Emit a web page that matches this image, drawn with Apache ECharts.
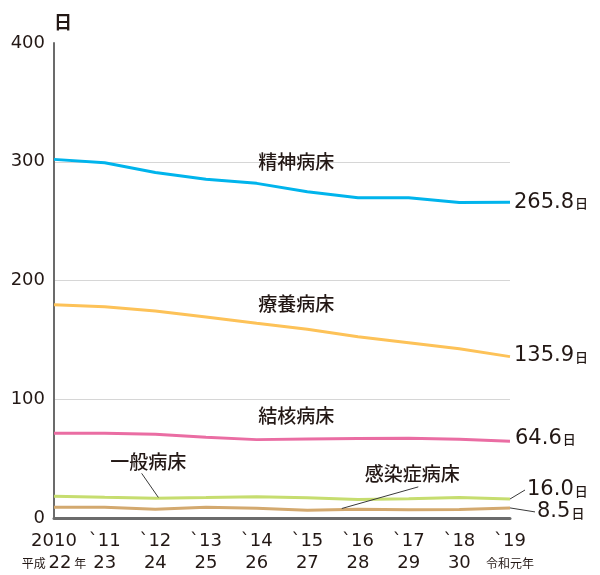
<!DOCTYPE html>
<html>
<head>
<meta charset="utf-8">
<script src="https://cdn.jsdelivr.net/npm/echarts@6/dist/echarts.min.js"></script>
<style>
  html, body { margin: 0; padding: 0; background: #fff; }
  #chart { width: 600px; height: 575px; }
</style>
</head>
<body>
<div id="chart"></div>
<script>
// x categories (two rows: western year / Japanese era year)
const yearLabels = ['2010', '`11', '`12', '`13', '`14', '`15', '`16', '`17', '`18', '`19'];
const eraLabels = ['22', '23', '24', '25', '26', '27', '28', '29', '30', '元'];
const yTicks = [0, 100, 200, 300, 400];

// average length of stay (days)
const seishin = [302.0, 299.2, 291.0, 285.2, 281.8, 274.8, 269.7, 269.7, 265.6, 265.8];
const ryoyo   = [179.5, 177.8, 174.4, 169.3, 164.0, 158.9, 152.7, 147.6, 142.5, 135.9];
const kekkaku = [71.4, 71.4, 70.6, 68.1, 66.0, 66.6, 66.9, 67.2, 66.3, 64.6];
const ippan   = [18.4, 17.5, 16.7, 17.2, 17.8, 17.0, 15.6, 16.2, 17.2, 16.0];
const kansen  = [9.1, 9.1, 7.4, 9.1, 8.2, 6.5, 7.4, 6.9, 7.2, 8.5];

const seriesNames = ['精神病床', '療養病床', '結核病床', '一般病床', '感染症病床'];
const seriesData = [seishin, ryoyo, kekkaku, ippan, kansen];
const colors = ['#00b4ec', '#fdc258', '#ea6da3', '#c6dd6f', '#d3a96f'];

const TXT = '#231815';
const NUM_FONT = '"DejaVu Sans", sans-serif';
const JP_FONT = '"Noto Sans CJK JP", sans-serif';

const option = {
  animation: false,
  backgroundColor: '#fff',
  grid: { left: 54, right: 90, top: 43, bottom: 57, containLabel: false, outerBoundsMode: 'none' },
  xAxis: {
    type: 'value',
    min: 0,
    max: yearLabels.length - 1,
    interval: 1,
    axisLine: { show: true, onZero: true, lineStyle: { color: '#6b6b6b', width: 3 } },
    axisTick: { show: false },
    splitLine: { show: false },
    axisLabel: {
      margin: 12,
      formatter: function (v) {
        const i = Math.round(v);
        let era;
        if (i === 0) era = '{s|平成 }{e|' + eraLabels[i] + '}{s| 年}';
        else if (i === eraLabels.length - 1) era = '{s|令和' + eraLabels[i] + '年}';
        else era = '{e|' + eraLabels[i] + '}';
        return '{y|' + yearLabels[i] + '}\n' + era;
      },
      rich: {
        y: { fontFamily: NUM_FONT, fontSize: 18, color: TXT, lineHeight: 22 },
        e: { fontFamily: NUM_FONT, fontSize: 18, color: TXT, lineHeight: 22 },
        s: { fontFamily: JP_FONT, fontSize: 12, color: TXT, lineHeight: 22 }
      }
    }
  },
  yAxis: {
    type: 'value',
    min: yTicks[0],
    max: yTicks[yTicks.length - 1],
    interval: 100,
    name: '日',
    nameLocation: 'end',
    nameGap: 12,
    nameTextStyle: { fontFamily: JP_FONT, fontSize: 18, fontWeight: 'bold', color: TXT, align: 'left' },
    axisLine: { show: true, lineStyle: { color: '#6b6b6b', width: 2 } },
    axisTick: { show: false },
    splitLine: { show: true, showMinLine: false, showMaxLine: false, lineStyle: { color: '#d6d6d6', width: 1 } },
    axisLabel: { margin: 9, fontFamily: NUM_FONT, fontSize: 18, color: TXT }
  },
  series: seriesData.map(function (d, k) {
    return {
      name: seriesNames[k],
      type: 'line',
      data: d.map(function (v, i) { return [i, v]; }),
      showSymbol: false,
      symbol: 'none',
      lineStyle: { color: colors[k], width: 3 },
      z: 5 - k
    };
  })
};

const chart = echarts.init(document.getElementById('chart'));
chart.setOption(option);

// annotations in data coordinates
const px = function (x, y) { return chart.convertToPixel({ gridIndex: 0 }, [x, y]); };
const last = yearLabels.length - 1;

const nameLabels = [
  { text: '精神病床', at: [4.78, 300.1] },
  { text: '療養病床', at: [4.78, 180.0] },
  { text: '結核病床', at: [4.78, 86.1] },
  { text: '一般病床', at: [1.86, 47.2] },
  { text: '感染症病床', at: [7.07, 37.0] }
];
const leaders = [
  { from: [1.73, 37.6], to: [2.06, ippan[2] + 0.6] },
  { from: [7.19, 26.2], to: [5.68, 8.0] }
];
// end value labels: pixel offset from the series' last point
const endLabels = [
  { k: 0, dx: 4, dy: 0 },
  { k: 1, dx: 4, dy: -1 },
  { k: 2, dx: 5, dy: -3 },
  { k: 3, dx: 17, dy: -9, lead: true },
  { k: 4, dx: 27, dy: 4, lead: true }
];

const g = [];
nameLabels.forEach(function (a) {
  const p = px(a.at[0], a.at[1]);
  g.push({
    type: 'text', x: p[0], y: p[1], z: 20,
    style: { text: a.text, fill: TXT, font: '500 19px ' + JP_FONT, align: 'center', verticalAlign: 'middle' }
  });
});
leaders.forEach(function (l) {
  const a = px(l.from[0], l.from[1]);
  const b = px(l.to[0], l.to[1]);
  g.push({ type: 'line', z: 20, shape: { x1: a[0], y1: a[1], x2: b[0], y2: b[1] }, style: { stroke: '#3a3a3a', lineWidth: 1 } });
});
endLabels.forEach(function (e) {
  const d = seriesData[e.k];
  const p = px(last, d[last]);
  const tx = p[0] + e.dx, ty = p[1] + e.dy;
  if (e.lead) {
    g.push({ type: 'line', z: 20, shape: { x1: p[0], y1: p[1], x2: tx - 2, y2: ty }, style: { stroke: '#3a3a3a', lineWidth: 1 } });
  }
  g.push({
    type: 'text', x: tx, y: ty, z: 20,
    style: {
      text: '{n|' + d[last].toFixed(1) + '}{u|日}',
      align: 'left', verticalAlign: 'middle',
      rich: {
        n: { fontFamily: NUM_FONT, fontSize: 21, fill: TXT, color: TXT },
        u: { fontFamily: JP_FONT, fontSize: 13, fontWeight: 500, fill: TXT, color: TXT, padding: [2, 0, 0, 1] }
      }
    }
  });
});
chart.setOption({ graphic: g });
</script>
</body>
</html>
